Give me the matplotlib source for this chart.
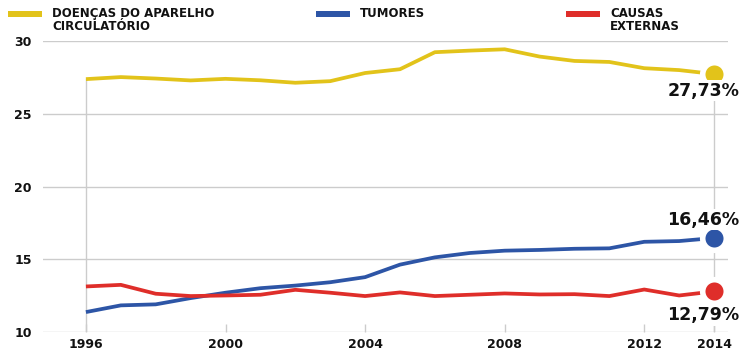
import matplotlib
matplotlib.use("Agg")
import matplotlib.pyplot as plt
from matplotlib.patches import Rectangle

plt.rcParams["font.family"] = ["DejaVu Sans"]

years = list(range(1996, 2015))
circulatorio = [27.38, 27.52, 27.42, 27.29, 27.40, 27.30, 27.13, 27.24, 27.80, 28.06,
                29.23, 29.34, 29.43, 28.93, 28.63, 28.56, 28.13, 28.00, 27.73]
tumores = [11.37, 11.83, 11.90, 12.33, 12.70, 13.01, 13.19, 13.42, 13.77, 14.63,
           15.13, 15.43, 15.59, 15.64, 15.72, 15.75, 16.20, 16.25, 16.46]
externas = [13.13, 13.24, 12.63, 12.47, 12.51, 12.56, 12.90, 12.70, 12.47, 12.72,
            12.47, 12.56, 12.65, 12.58, 12.60, 12.47, 12.92, 12.51, 12.79]

series_names = ["DOENÇAS DO APARELHO\nCIRCULATÓRIO", "TUMORES", "CAUSAS\nEXTERNAS"]
end_labels = ["27,73%", "16,46%", "12,79%"]
x_ticks = [1996, 2000, 2004, 2008, 2012, 2014]
y_ticks = [10, 15, 20, 25, 30]

colors = ["#E2C31A", "#2D55A6", "#DF2E2A"]
grid_color = "#cccccc"
text_color = "#111111"

fig = plt.figure(figsize=(7.47, 3.52), dpi=100)
ax = fig.add_axes([43 / 747, 1 - 332 / 352, (728 - 43) / 747, (332 - 41) / 352])

ax.set_xlim(1994.77, 2014.40)
ax.set_ylim(10, 30)

for y in y_ticks:
    ax.axhline(y, color=grid_color, lw=1.0, zorder=1)

ax.plot([years[0], years[0]], [10, circulatorio[0]], color=grid_color, lw=1.0, zorder=1)
ax.plot([years[-1], years[-1]], [10, circulatorio[-1]], color=grid_color, lw=1.0, zorder=1)

for vals, color in zip([circulatorio, tumores, externas], colors):
    ax.plot(years, vals, color=color, lw=2.7, solid_capstyle="butt", zorder=3)
    ax.plot(years[-1], vals[-1], "o", ms=17, color=color, mec="white", mew=4, zorder=4)

label_offsets = [-1.15, 1.25, -1.65]
for vals, lab, off in zip([circulatorio, tumores, externas], end_labels, label_offsets):
    ax.text(years[-1] - 0.3, vals[-1] + off, lab, ha="center", va="center",
            fontsize=12.5, fontweight="bold", color=text_color, zorder=5,
            bbox=dict(facecolor="white", edgecolor="none", pad=1.0))

for spine in ax.spines.values():
    spine.set_visible(False)

ax.set_yticks(y_ticks)
ax.set_yticklabels([str(v) for v in y_ticks])
ax.set_xticks(x_ticks)
ax.set_xticklabels([str(v) for v in x_ticks])
ax.tick_params(axis="y", length=0, pad=8, labelsize=9, labelcolor=text_color)
ax.tick_params(axis="x", direction="in", length=6, width=1, color=grid_color,
               pad=4, labelsize=9, labelcolor=text_color)
for lab in ax.get_xticklabels() + ax.get_yticklabels():
    lab.set_fontweight("bold")

# legend at the top
legend_x = [8, 316, 566]
for name, color, lx in zip(series_names, colors, legend_x):
    fig.patches.append(Rectangle((lx / 747, 1 - 17 / 352), 34 / 747, 6 / 352,
                                 transform=fig.transFigure, facecolor=color,
                                 edgecolor="none"))
    fig.text((lx + 44) / 747, 1 - 7 / 352, name, ha="left", va="top",
             fontsize=8.5, fontweight="bold", color=text_color, linespacing=1.05)

fig.savefig("out.png", dpi=100)
